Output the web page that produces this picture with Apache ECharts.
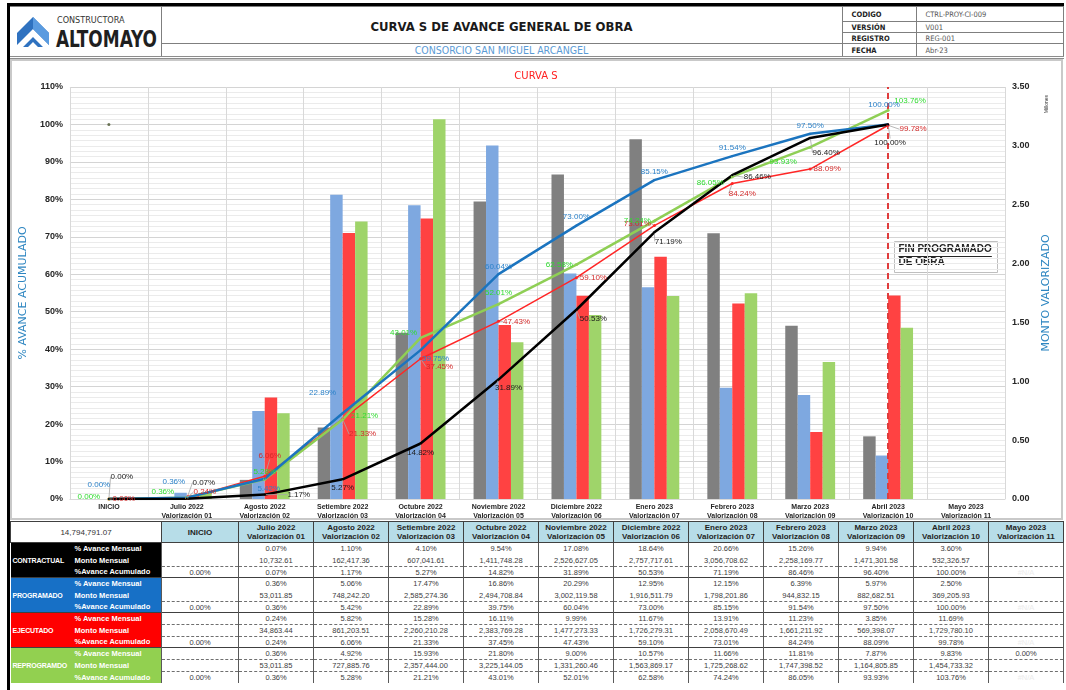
<!DOCTYPE html>
<html><head><meta charset="utf-8">
<script src="https://cdn.jsdelivr.net/npm/echarts@6/dist/echarts.min.js"></script>
<style>
html,body{margin:0;padding:0;background:#fff;}
body{width:1066px;height:690px;overflow:hidden;position:relative;font-family:"Liberation Sans",Arial,sans-serif;}
#pageframe{position:absolute;left:7px;top:3px;width:1057px;height:690px;border-left:3px solid #000;border-top:3px solid #000;box-sizing:border-box;}
#head{position:absolute;left:10px;top:6px;width:1053px;height:51px;border-collapse:collapse;table-layout:fixed;border-bottom:3px double #8c8c8c;}
#head td{padding:0;border:1px solid #7f7f7f;overflow:hidden;white-space:nowrap;}
#head .lbl{font-family:"DejaVu Sans Condensed","DejaVu Sans",sans-serif;font-stretch:condensed;font-weight:bold;font-size:7.5px;color:#222;padding-left:9px;}
#head .val{font-family:"DejaVu Sans Condensed","DejaVu Sans",sans-serif;font-stretch:condensed;font-size:7.5px;color:#555;padding-left:9px;}
#title{text-align:center;font-family:"Liberation Sans Narrow","DejaVu Sans Condensed",sans-serif;font-stretch:condensed;font-weight:bold;font-size:13px;color:#1a1a1a;padding-top:3px!important;}
#subtitle{text-align:center;font-family:"DejaVu Sans Condensed","DejaVu Sans",sans-serif;font-size:10.5px;color:#5b9bd5;}
#chartframe{position:absolute;left:10px;top:59px;width:1053px;height:461px;border:2px solid #c9c9c9;box-sizing:border-box;}
#chart{position:absolute;left:10px;top:59px;width:1052px;height:462px;}
#tbl{position:absolute;left:10px;top:521px;width:1053px;border-collapse:collapse;table-layout:fixed;}
#tbl td{padding:0;overflow:hidden;white-space:nowrap;text-align:center;font-size:7.5px;color:#3c3c3c;line-height:9px;border-left:1px solid #595959;border-right:1px solid #595959;}
#tbl tr.hdr td{line-height:9px;background:#b7dde8;font-weight:bold;font-size:8px;color:#1f1f1f;border:1px solid #404040;}
#tbl tr.hdr td.first{background:#fff;font-weight:normal;color:#333;}
#tbl td.grp{color:#fff;font-weight:bold;font-size:7px;letter-spacing:-0.2px;text-align:left;padding-left:2px;border:none;}
#tbl td.desc{color:#fff;font-weight:bold;font-size:7.5px;text-align:left;padding-left:2px;border:none;}
#tbl tr.g1 td{border-top:1px solid #404040;}
#tbl tr.dash td.d{border-top:1px dashed #6f6f6f;}
#tbl td.na{color:#ececec;}
</style></head><body>
<div id="pageframe"></div>
<table id="head">
<colgroup><col style="width:151px"><col style="width:681px"><col style="width:74px"><col style="width:147px"></colgroup>
<tr style="height:15px">
<td rowspan="4" style="border-left:none;position:relative;">
<svg width="151" height="48" style="position:absolute;left:0;top:0;">
<polygon points="7,26 23,10 39,26 39,38 23,22 7,38" fill="#2f72c0"/>
<polygon points="23,10 39,26 39,38 23,22" fill="#5a9be0"/>
<polygon points="13,40 23,30 33,40 28,40 23,35 18,40" fill="#2f72c0"/>
<text x="47" y="16" font-family="Liberation Sans Narrow, DejaVu Sans Condensed, sans-serif" font-size="9" fill="#333">CONSTRUCTORA</text>
<text x="46" y="40" font-family="Liberation Sans Narrow, DejaVu Sans Condensed, sans-serif" font-weight="bold" font-size="23" fill="#1f1f1f" textLength="101" lengthAdjust="spacingAndGlyphs">ALTOMAYO</text>
</svg></td>
<td id="title" rowspan="3">CURVA S DE AVANCE GENERAL DE OBRA</td>
<td class="lbl">CODIGO</td><td class="val">CTRL-PROY-CI-009</td></tr>
<tr style="height:11px"><td class="lbl">VERSIÓN</td><td class="val">V001</td></tr>
<tr style="height:11px"><td class="lbl">REGISTRO</td><td class="val">REG-001</td></tr>
<tr style="height:12px"><td id="subtitle">CONSORCIO SAN MIGUEL ARCANGEL</td><td class="lbl">FECHA</td><td class="val">Abr-23</td></tr>
</table>
<div id="chartframe"></div>
<div id="chart"></div>
<table id="tbl"></table>
<script>
// ---------- DATA ----------
const montoContractualTotal = 14794791.07;
const categorias = ['INICIO','Julio 2022','Agosto 2022','Setiembre 2022','Octubre 2022','Noviembre 2022','Diciembre 2022','Enero 2023','Febrero 2023','Marzo 2023','Abril 2023','Mayo 2023'];
const valorizaciones = ['','Valorización 01','Valorización 02','Valorización 03','Valorización 04','Valorización 05','Valorización 06','Valorización 07','Valorización 08','Valorización 09','Valorización 10','Valorización 11'];

const contractualMensual = [null,0.07,1.10,4.10,9.54,17.08,18.64,20.66,15.26,9.94,3.60,null];
const contractualMonto   = [null,10732.61,162417.36,607041.61,1411748.28,2526627.05,2757717.61,3056708.62,2258169.77,1471301.58,532326.57,null];
const contractualAcum    = [0.00,0.07,1.17,5.27,14.82,31.89,50.53,71.19,86.46,96.40,100.00,null];

const programadoMensual = [null,0.36,5.06,17.47,16.86,20.29,12.95,12.15,6.39,5.97,2.50,null];
const programadoMonto   = [null,53011.85,748242.20,2585274.36,2494708.84,3002119.58,1916511.79,1798201.86,944832.15,882682.51,369205.93,null];
const programadoAcum    = [0.00,0.36,5.42,22.89,39.75,60.04,73.00,85.15,91.54,97.50,100.00,null];

const ejecutadoMensual = [null,0.24,5.82,15.28,16.11,9.99,11.67,13.91,11.23,3.85,11.69,null];
const ejecutadoMonto   = [null,34863.44,861203.51,2260210.28,2383769.28,1477273.33,1726279.31,2058670.49,1661211.92,569398.07,1729780.10,null];
const ejecutadoAcum    = [0.00,0.24,6.06,21.33,37.45,47.43,59.10,73.01,84.24,88.09,99.78,null];

const reprogramadoMensual = [null,0.36,4.92,15.93,21.80,9.00,10.57,11.66,11.81,7.87,9.83,0.00];
const reprogramadoMonto   = [null,53011.85,727885.76,2357444.00,3225144.05,1331260.46,1563869.17,1725268.62,1747398.52,1164805.85,1454733.32,null];
const reprogramadoAcum    = [0.00,0.36,5.28,21.21,43.01,52.01,62.58,74.24,86.05,93.93,103.76,null];

const puntoInicio = [100,null,null,null,null,null,null,null,null,null,null,null];
const finProgramado = 'Abril 2023';

// ---------- STYLE (label offsets, not data) ----------
const offProg  = [[-10,-14],[-13,-16],[4,10],[-20,-20],[15,9],[0,-7],[0,-9],[0,-8],[0,-8],[0,-8],[-4,-20]];
const offContr = [[13,-22],[17,-16],[34,0],[0,9],[0,9],[10,8],[17,9],[14,9],[25,2],[16,15],[2,18]];
const offEjec  = [[15,0],[18,-6],[5,-21],[20,15],[19,8],[18,0],[17,0],[-17,-2],[10,10],[17,0],[25,4]];
const offRepro = [[-20,-2],[-24,-6],[0,-7],[22,-4],[-17,-5],[0,-11],[-17,0],[-17,0],[-22,6],[-27,15],[22,-10]];

const FONT = 'Liberation Sans';
function pct(v){return v==null?'':v.toFixed(2)+'%';}
function money(v){return v==null?'':v.toLocaleString('en-US',{minimumFractionDigits:2,maximumFractionDigits:2});}
function mill(arr){return arr.map(v=>v==null?null:v/1e6);}

function lineSeries(name, data, color, width, labelColor, offs, symSize, showLeader){
  return {
    name, type:'line', yAxisIndex:0, data, z:5,
    symbol:'circle', symbolSize:symSize, showSymbol:true,
    itemStyle:{color:color},
    lineStyle:{color:color, width:width},
    label:{show:true, position:'inside', color:labelColor, fontSize:8, fontFamily:FONT,
      formatter:p=>p.value==null?'':p.value.toFixed(2)+'%'},
    labelLine:{show:showLeader, lineStyle:{color:'#a6a6a6', width:0.8}},
    labelLayout:function(p){const o=offs[p.dataIndex]; return o?{dx:o[0],dy:o[1]}:{};},
    emphasis:{disabled:true}
  };
}
function barSeries(name, data, color){
  return {name, type:'bar', yAxisIndex:1, data:mill(data), itemStyle:{color:color},
    barGap:'0%', barCategoryGap:'36%', z:2, emphasis:{disabled:true}};
}

const chart = echarts.init(document.getElementById('chart'), null, {renderer:'canvas'});

const cv = document.createElement('canvas').getContext('2d');
cv.font = 'bold 10px "Liberation Sans"';
const w1 = cv.measureText('FIN PROGRAMADO').width, w2 = cv.measureText('DE OBRA').width;

const option = {
  animation:false,
  backgroundColor:'transparent',
  title:{text:'CURVA S', left:'center', top:7, textStyle:{color:'#ff2020', fontSize:10, fontWeight:'normal', fontFamily:'DejaVu Sans'}},
  grid:{left:47, right:57, top:28, bottom:22},
  xAxis:{type:'category', data:categorias, boundaryGap:true,
    axisLine:{show:true, lineStyle:{color:'#d9d9d9'}}, axisTick:{show:false},
    splitLine:{show:true, interval:0, lineStyle:{color:'#d9d9d9', width:1}},
    axisLabel:{interval:0, margin:4, fontSize:7, fontWeight:'bold', color:'#262626', fontFamily:FONT, lineHeight:9,
      formatter:(v,i)=>valorizaciones[i]?v+'\n'+valorizaciones[i]:v}},
  yAxis:[
    {type:'value', min:0, max:110, interval:10, position:'left',
      name:'% AVANCE ACUMULADO', nameLocation:'middle', nameRotate:90, nameGap:31,
      nameTextStyle:{color:'#2e86c1', fontSize:11, fontFamily:'DejaVu Sans'},
      axisLine:{show:false}, axisTick:{show:false},
      axisLabel:{formatter:'{value}%', fontSize:9, fontWeight:'bold', color:'#262626', fontFamily:FONT, margin:7},
      splitLine:{show:true, lineStyle:{color:'#d4d4d4'}},
      minorTick:{show:false, splitNumber:7},
      minorSplitLine:{show:true, lineStyle:{color:'#ebebeb'}}},
    {type:'value', min:0, max:3.5, interval:0.5, position:'right',
      name:'MONTO VALORIZADO', nameLocation:'middle', nameRotate:90, nameGap:27,
      nameTextStyle:{color:'#2e86c1', fontSize:11, fontFamily:'DejaVu Sans'},
      axisLine:{show:false}, axisTick:{show:false},
      axisLabel:{formatter:v=>v.toFixed(2), fontSize:9, fontWeight:'bold', color:'#262626', fontFamily:FONT, margin:7},
      splitLine:{show:false}}
  ],
  series:[
    barSeries('Contractual', contractualMonto, '#808080'),
    barSeries('Programado', programadoMonto, '#7ea8e0'),
    barSeries('Ejecutado', ejecutadoMonto, '#ff4242'),
    barSeries('Reprogramado', reprogramadoMonto, '#9fd46a'),
    lineSeries('Ejecutado acumulado', ejecutadoAcum, '#ff2626', 1.5, '#d42a2a', offEjec, 3, true),
    lineSeries('Reprogramado acumulado', reprogramadoAcum, '#8fcf55', 2.5, '#2fdb2f', offRepro, 3, false),
    lineSeries('Programado acumulado', programadoAcum, '#1b74bf', 2.5, '#2c82c9', offProg, 2, false),
    Object.assign(lineSeries('Contractual acumulado', contractualAcum, '#000000', 2.5, '#1a1a1a', offContr, 2, true), {
      markLine:{silent:true, symbol:'none', label:{show:false},
        lineStyle:{color:'#e03c3c', type:[6,4], width:2},
        data:[{xAxis:finProgramado}]}
    }),
    {name:'Inicio', type:'scatter', yAxisIndex:0, data:puntoInicio, symbolSize:3, itemStyle:{color:'#4a5530'}, z:6}
  ],
  graphic:[
    {type:'text', left:1034, top:36, rotation:Math.PI/2, style:{text:'Millones', fontSize:5, fill:'#333', fontFamily:FONT}},
    {type:'group', left:884, top:182, children:[
      {type:'rect', shape:{x:0,y:0,width:103,height:31}, style:{fill:'#fff', stroke:'#bfbfbf', lineWidth:1}},
      {type:'text', x:4, y:3, style:{text:'FIN PROGRAMADO', font:'bold 10px "Liberation Sans"', fill:'#262626', verticalAlign:'top', align:'left'}},
      {type:'line', shape:{x1:4,y1:15,x2:4+w1,y2:15}, style:{stroke:'#262626', lineWidth:1}},
      {type:'text', x:4, y:16, style:{text:'DE OBRA', font:'bold 10px "Liberation Sans"', fill:'#262626', verticalAlign:'top', align:'left'}},
      {type:'line', shape:{x1:4,y1:28,x2:4+w2,y2:28}, style:{stroke:'#262626', lineWidth:1}}
    ]}
  ]
};
chart.setOption(option);

// ---------- TABLE ----------
const groups = [
  {name:'CONTRACTUAL', color:'#000000', m:contractualMensual, s:contractualMonto, a:contractualAcum, dash1:false},
  {name:'PROGRAMADO', color:'#1770c6', m:programadoMensual, s:programadoMonto, a:programadoAcum, dash1:false},
  {name:'EJECUTADO', color:'#ff0000', m:ejecutadoMensual, s:ejecutadoMonto, a:ejecutadoAcum, dash1:true},
  {name:'REPROGRAMDO', color:'#92d050', m:reprogramadoMensual, s:reprogramadoMonto, a:reprogramadoAcum, dash1:true}
];
let html = '<colgroup><col style="width:62px"><col style="width:89px"><col style="width:77px">' + '<col style="width:75px">'.repeat(11) + '</colgroup>';
html += '<tr class="hdr" style="height:21px"><td class="first" colspan="2">'+money(montoContractualTotal)+'</td>';
categorias.forEach((c,i)=>{ html += '<td>'+c+(valorizaciones[i]?'<br>'+valorizaciones[i]:'')+'</td>'; });
html += '</tr>';
groups.forEach(g=>{
  const rows = [['% Avance Mensual', g.m.map(pct)], ['Monto Mensual', g.s.map(money)], ['%Avance Acumulado', g.a.map(pct)]];
  rows.forEach((r,ri)=>{
    const cls = ri===0 ? 'g1' : ((ri===2 || (ri===1 && g.dash1)) ? 'dash' : '');
    html += '<tr class="'+cls+'" style="height:'+(ri===2?11:12)+'px">';
    if(ri===0) html += '<td class="grp" rowspan="3" style="background:'+g.color+'">'+g.name+'</td>';
    html += '<td class="desc" style="background:'+g.color+'">'+r[0]+'</td>';
    r[1].forEach((v,ci)=>{
      if(ri===2 && g.a[ci]==null) html += '<td class="d na">#N/A</td>';
      else html += '<td class="d">'+v+'</td>';
    });
    html += '</tr>';
  });
});
document.getElementById('tbl').innerHTML = html;
</script>
</body></html>
